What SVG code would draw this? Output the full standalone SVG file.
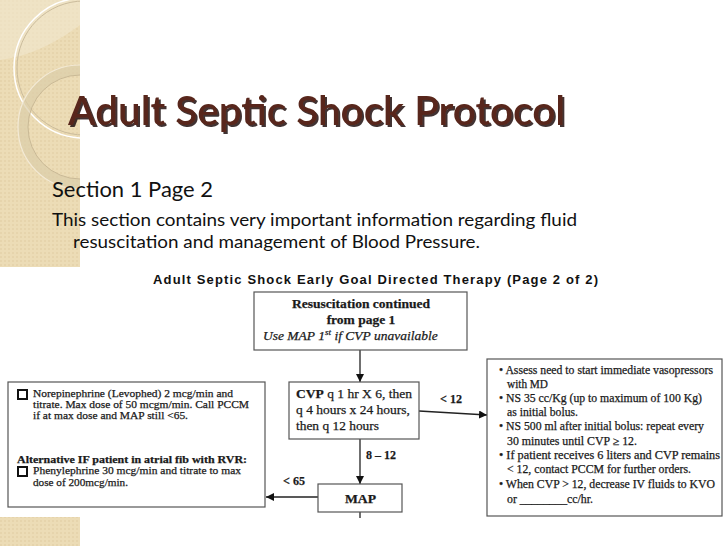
<svg xmlns="http://www.w3.org/2000/svg" width="728" height="546" viewBox="0 0 728 546">
<defs>
<pattern id="dots" width="4" height="4" patternUnits="userSpaceOnUse">
<rect width="4" height="4" fill="#ecdcb6"/>
<rect width="2" height="2" fill="#e6d4ac"/>
</pattern>
<clipPath id="strip"><rect x="0" y="0" width="80" height="267"/></clipPath>
<filter id="shadow" x="-5%" y="-20%" width="110%" height="150%">
<feDropShadow dx="2" dy="2" stdDeviation="0.6" flood-color="#1a100c" flood-opacity="0.85"/>
</filter>
<marker id="arr" viewBox="0 0 10 10" refX="10" refY="5" markerWidth="8" markerHeight="8" markerUnits="userSpaceOnUse" orient="auto">
<path d="M0,0 L10,5 L0,10 z" fill="#111"/>
</marker>
<style>
.title{font-family:"Lato","Open Sans",sans-serif;font-size:41px;font-weight:600}
.slide{font-family:"Lato","Open Sans",sans-serif;fill:#111}
.box{fill:#fff;stroke:#555;stroke-width:1.2}
.t{font-family:"Liberation Serif","Times New Roman",serif;font-size:11.5px;fill:#1a1a1a;stroke:#1a1a1a;stroke-width:0.25}
.l{font-size:11px}
.c{font-size:13.5px}
.b{font-weight:bold}
.h{font-family:"Liberation Sans",Arial,sans-serif;font-weight:bold;font-size:13px;fill:#111}
.conn{stroke:#222;stroke-width:1.3;fill:none}
.chk{fill:#fff;stroke:#111;stroke-width:2}
</style>
</defs>
<rect width="728" height="546" fill="#fff"/>
<!-- left decorative strip -->
<rect x="0" y="0" width="80" height="267" fill="url(#dots)"/>
<rect x="0" y="517" width="80" height="29" fill="url(#dots)"/>
<g clip-path="url(#strip)" fill="none">
<path d="M0,60 Q40,55 80,25 L80,0 L0,0 z" fill="#f2e7cf" opacity="0.6"/>
<circle cx="84" cy="68" r="70" stroke="#fff" stroke-width="1.5"/>
<circle cx="84" cy="68" r="67" stroke="#cbbc9c" stroke-width="1"/>
<circle cx="80" cy="127" r="57" stroke="#dccdaa" stroke-width="10" opacity="0.7"/>
<circle cx="80" cy="127" r="62" stroke="#f3ead6" stroke-width="1.2"/>
<circle cx="80" cy="127" r="52" stroke="#c9b996" stroke-width="1"/>
</g>
<!-- slide texts -->
<text x="68" y="125" class="title" fill="#58261a" textLength="497" lengthAdjust="spacingAndGlyphs" filter="url(#shadow)">Adult Septic Shock Protocol</text>
<text x="52" y="197" class="slide" font-size="21" textLength="161" lengthAdjust="spacingAndGlyphs">Section 1 Page 2</text>
<text x="52" y="226" class="slide" font-size="17.5" textLength="525" lengthAdjust="spacingAndGlyphs">This section contains very important information regarding fluid</text>
<text x="73" y="248" class="slide" font-size="17.5" textLength="407" lengthAdjust="spacingAndGlyphs">resuscitation and management of Blood Pressure.</text>
<!-- diagram heading -->
<text x="153" y="284" class="h" textLength="445">Adult Septic Shock Early Goal Directed Therapy (Page 2 of 2)</text>
<!-- connectors -->
<g id="connectors">
<line x1="360" y1="350" x2="360" y2="382" class="conn" marker-end="url(#arr)"/>
<line x1="419" y1="411" x2="487" y2="415" class="conn" marker-end="url(#arr)"/>
<line x1="360" y1="439" x2="360" y2="484" class="conn" marker-end="url(#arr)"/>
<line x1="318" y1="497" x2="266" y2="497" class="conn" marker-end="url(#arr)"/>
<line x1="360" y1="512" x2="360" y2="518" class="conn"/>
<text x="440" y="403" class="t c b" textLength="22" lengthAdjust="spacingAndGlyphs">&lt; 12</text>
<text x="366" y="459" class="t c b" textLength="30" lengthAdjust="spacingAndGlyphs">8 – 12</text>
<text x="283" y="485" class="t c b" textLength="22" lengthAdjust="spacingAndGlyphs">&lt; 65</text>
</g>
<!-- nodes -->
<g id="start">
<rect x="254" y="292" width="213" height="58" class="box"/>
<text x="292" y="308" class="t c b" textLength="138" lengthAdjust="spacingAndGlyphs">Resuscitation continued</text>
<text x="361" y="324" class="t c b" text-anchor="middle">from page 1</text>
<text x="263" y="340" class="t c" font-size="14" font-style="italic">Use MAP 1<tspan font-size="9" dy="-5">st</tspan><tspan dy="5"> if CVP unavailable</tspan></text>
</g>
<g id="cvp">
<rect x="289" y="382" width="130" height="57" class="box"/>
<text x="296" y="398" class="t c" textLength="116" lengthAdjust="spacingAndGlyphs"><tspan class="b">CVP</tspan> q 1 hr X 6, then</text>
<text x="296" y="414" class="t c" textLength="114" lengthAdjust="spacingAndGlyphs">q 4 hours x 24 hours,</text>
<text x="296" y="430" class="t c" textLength="83" lengthAdjust="spacingAndGlyphs">then q 12 hours</text>
</g>
<g id="map">
<rect x="318" y="484" width="84" height="28" class="box"/>
<text x="345" y="503" class="t b" font-size="15" textLength="31" lengthAdjust="spacingAndGlyphs">MAP</text>
</g>
<g id="vasopressors">
<rect x="8" y="382" width="257" height="125" class="box"/>
<rect x="18" y="390" width="9" height="9" class="chk"/>
<text x="33" y="397" class="t l" textLength="200" lengthAdjust="spacingAndGlyphs">Norepinephrine (Levophed) 2 mcg/min and</text>
<text x="33" y="408" class="t l" textLength="216" lengthAdjust="spacingAndGlyphs">titrate. Max dose of 50 mcgm/min. Call PCCM</text>
<text x="33" y="419" class="t l" textLength="155" lengthAdjust="spacingAndGlyphs">if at max dose and MAP still &lt;65.</text>
<text x="17" y="463" class="t l b" textLength="230" lengthAdjust="spacingAndGlyphs">Alternative IF patient in atrial fib with RVR:</text>
<rect x="18" y="467" width="9" height="9" class="chk"/>
<text x="33" y="474" class="t l" textLength="208" lengthAdjust="spacingAndGlyphs">Phenylephrine 30 mcg/min and titrate to max</text>
<text x="33" y="486" class="t l" textLength="95" lengthAdjust="spacingAndGlyphs">dose of 200mcg/min.</text>
</g>
<g id="fluids">
<rect x="487" y="359" width="235" height="157" class="box"/>
<text x="499" y="374" class="t" textLength="214" lengthAdjust="spacingAndGlyphs">• Assess need to start immediate vasopressors</text>
<text x="507" y="388" class="t" textLength="41" lengthAdjust="spacingAndGlyphs">with MD</text>
<text x="499" y="402" class="t" textLength="203" lengthAdjust="spacingAndGlyphs">• NS 35 cc/Kg (up to maximum of 100 Kg)</text>
<text x="507" y="416" class="t" textLength="71" lengthAdjust="spacingAndGlyphs">as initial bolus.</text>
<text x="499" y="430" class="t" textLength="205" lengthAdjust="spacingAndGlyphs">• NS 500 ml after initial bolus: repeat every</text>
<text x="507" y="445" class="t" textLength="130" lengthAdjust="spacingAndGlyphs">30 minutes until CVP ≥ 12.</text>
<text x="499" y="459" class="t" textLength="221" lengthAdjust="spacingAndGlyphs">• If patient receives 6 liters and CVP remains</text>
<text x="507" y="473" class="t" textLength="184" lengthAdjust="spacingAndGlyphs">&lt; 12, contact PCCM for further orders.</text>
<text x="499" y="488" class="t" textLength="216" lengthAdjust="spacingAndGlyphs">• When CVP &gt; 12, decrease IV fluids to KVO</text>
<text x="507" y="503" class="t" textLength="86" lengthAdjust="spacingAndGlyphs">or ________cc/hr.</text>
</g>
</svg>
